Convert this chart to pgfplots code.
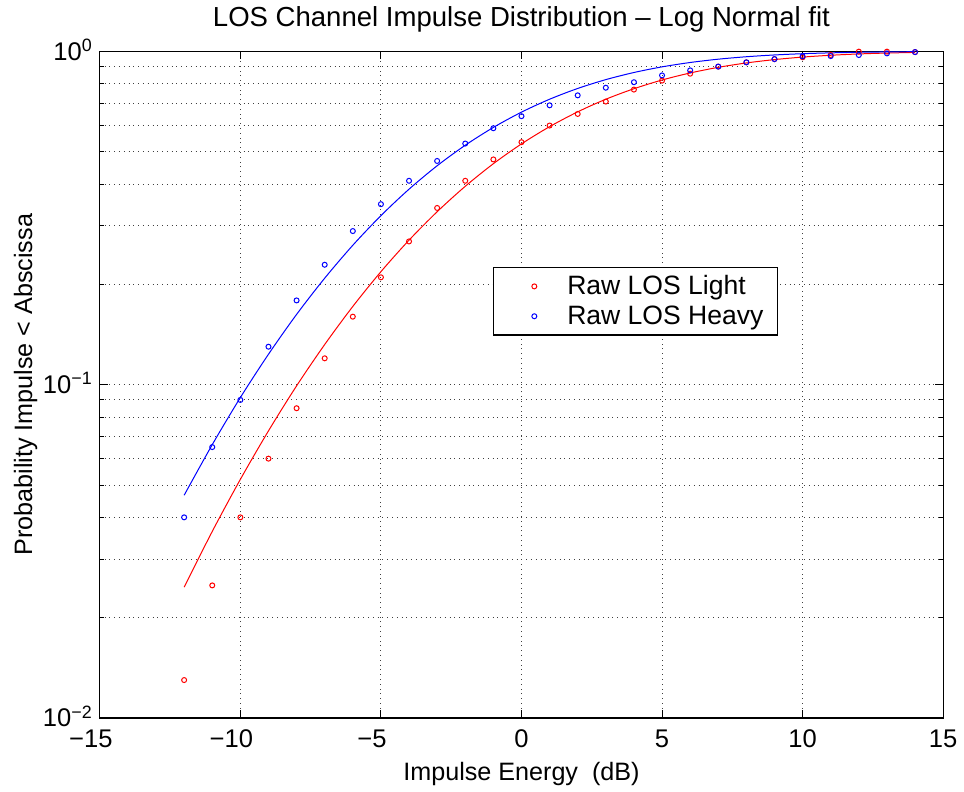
\documentclass[border=0pt]{standalone}
\usepackage{fontspec}
\setmainfont{Liberation Sans}
\usepackage{pgfplots}
\pgfplotsset{compat=1.18}
\begin{document}
\begin{tikzpicture}
\begin{axis}[
  scale only axis, width=422.5pt, height=334pt,
  xmin=-15, xmax=15, ymin=0.01, ymax=1, ymode=log,
  xtick={-15,-10,-5,0,5,10,15},
  xticklabels={−15\hspace*{9pt},−10\hspace*{9pt},−5\hspace*{9pt},0,5,10,15},
  ytick={0.01,0.1,1},
  yticklabels={10\smash{\textsuperscript{−2}},10\smash{\textsuperscript{−1}},10\smash{\textsuperscript{0}}},
  minor ytick={0.02,0.03,0.04,0.05,0.06,0.07,0.08,0.09,0.2,0.3,0.4,0.5,0.6,0.7,0.8,0.9},
  xmajorgrids, ymajorgrids, yminorgrids,
  major grid style={dotted, black!75, line width=0.5pt},
  minor grid style={dotted, black!75, line width=0.5pt},
  tick align=inside, tick pos=both,
  major tick length=4pt, minor tick length=2pt,
  every tick/.style={black, line width=0.5pt},
  axis line style={line width=0.6pt},
  tick label style={font=\fontsize{12.8}{15}\selectfont},
  xticklabel style={yshift=-2.5pt},
  label style={font=\fontsize{12.6}{15}\selectfont},
  ylabel style={yshift=-4pt},
  title style={font=\fontsize{13.8}{16}\selectfont, yshift=0pt},
  title={LOS Channel Impulse Distribution – Log Normal fit},
  xlabel={Impulse Energy\ \ (dB)},
  ylabel={Probability Impulse < Abscissa},
  legend style={at={(0.466,0.677)}, anchor=north west, draw=black, line width=0.6pt,
    font=\fontsize{13.3}{15}\selectfont, inner xsep=5pt, inner ysep=2pt},
  legend cell align=left,
  legend image code/.code={\path[draw=none] (-15.5pt,-2pt) rectangle (14.5pt,2pt); \draw[#1, line width=0.5pt] plot coordinates {(0pt,0pt)};},
]
\addplot[red, only marks, mark=o, mark size=1.25pt, line width=0.5pt] coordinates {
(-12,0.013) (-11,0.025) (-10,0.040) (-9,0.060) (-8,0.085) (-7,0.120) (-6,0.160)
(-5,0.210) (-4,0.269) (-3,0.339) (-2,0.409) (-1,0.474) (0,0.534) (1,0.599)
(2,0.649) (3,0.707) (4,0.768) (5,0.817) (6,0.857) (7,0.900) (8,0.927)
(9,0.948) (10,0.960) (11,0.975) (12,0.998) (13,0.998) (14,0.995)};
\addlegendentry{Raw LOS Light}
\addplot[blue, only marks, mark=o, mark size=1.25pt, line width=0.5pt] coordinates {
(-12,0.040) (-11,0.065) (-10,0.090) (-9,0.130) (-8,0.179) (-7,0.229) (-6,0.289)
(-5,0.348) (-4,0.409) (-3,0.469) (-2,0.529) (-1,0.588) (0,0.639) (1,0.689)
(2,0.738) (3,0.778) (4,0.808) (5,0.847) (6,0.877) (7,0.900) (8,0.927)
(9,0.948) (10,0.966) (11,0.968) (12,0.975) (13,0.986) (14,0.995)};
\addlegendentry{Raw LOS Heavy}
\addplot[red, smooth, line width=0.5pt, forget plot] coordinates {
(-12,0.0247) (-11,0.0363) (-10,0.0520) (-9,0.0727) (-8,0.0992) (-7,0.1320) (-6,0.1717)
(-5,0.2183) (-4,0.2714) (-3,0.3303) (-2,0.3938) (-1,0.4602) (0,0.5277) (1,0.5944)
(2,0.6585) (3,0.7184) (4,0.7726) (5,0.8204) (6,0.8613) (7,0.8954) (8,0.9230)
(9,0.9446) (10,0.9612) (11,0.9734) (12,0.9823) (13,0.9885) (14,0.9927)};
\addplot[blue, smooth, line width=0.5pt, forget plot] coordinates {
(-12,0.0466) (-11,0.0661) (-10,0.0915) (-9,0.1234) (-8,0.1625) (-7,0.2087) (-6,0.2620)
(-5,0.3215) (-4,0.3860) (-3,0.4537) (-2,0.5228) (-1,0.5913) (0,0.6571) (1,0.7185)
(2,0.7739) (3,0.8226) (4,0.8641) (5,0.8984) (6,0.9259) (7,0.9473) (8,0.9635)
(9,0.9754) (10,0.9839) (11,0.9897) (12,0.9936) (13,0.9961) (14,0.9977)};
\end{axis}
\path (current axis.south west) ++(-50pt,-34pt) (current axis.north east) ++(9.5pt,24.5pt);
\end{tikzpicture}
\end{document}
